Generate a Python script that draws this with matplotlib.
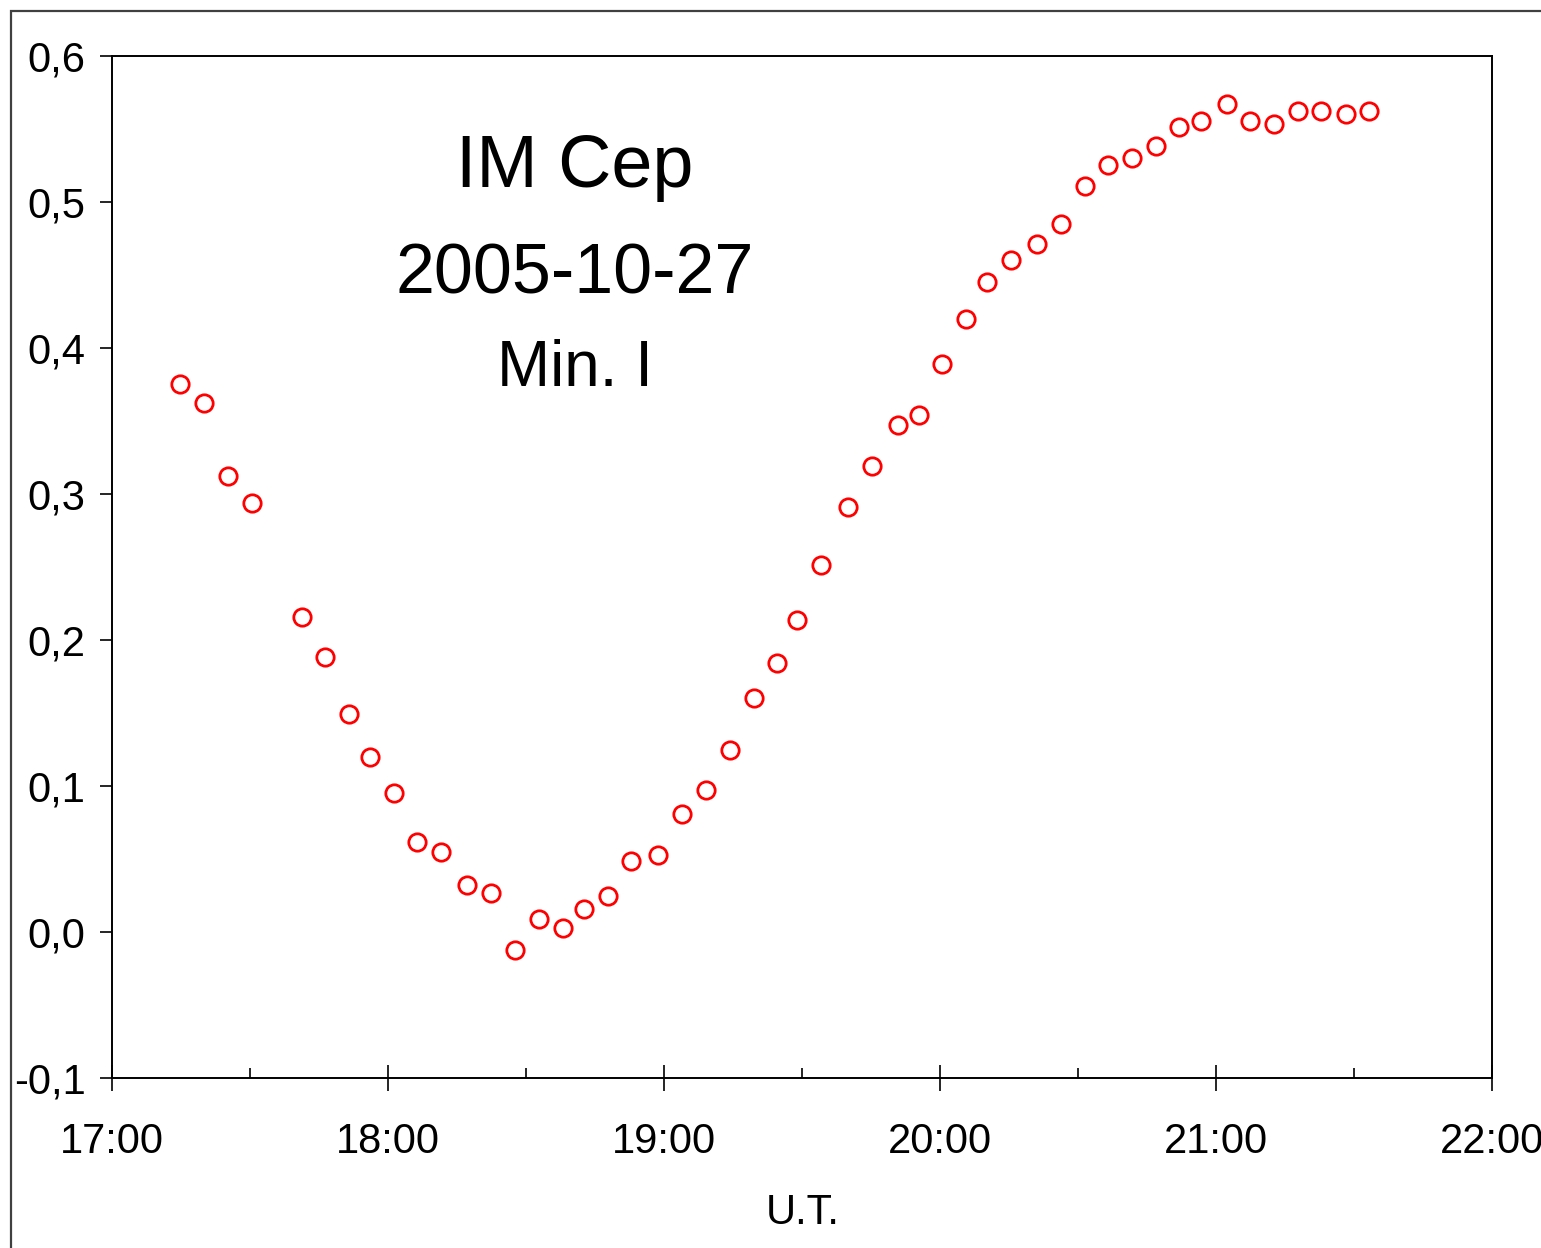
import matplotlib
matplotlib.use('Agg')
import matplotlib.pyplot as plt
import matplotlib.ticker as mticker
from matplotlib import font_manager
from matplotlib.patches import Rectangle

# DATOS (hora UT decimal, delta mag)
ut = [17.247, 17.334, 17.421, 17.508, 17.689, 17.772, 17.859, 17.935, 18.023, 18.106,
      18.193, 18.287, 18.374, 18.461, 18.548, 18.635, 18.711, 18.795, 18.878, 18.976,
      19.063, 19.150, 19.237, 19.324, 19.408, 19.480, 19.567, 19.665, 19.752, 19.846,
      19.922, 20.006, 20.093, 20.169, 20.256, 20.350, 20.437, 20.524, 20.608, 20.695,
      20.782, 20.865, 20.945, 21.039, 21.123, 21.210, 21.297, 21.380, 21.471, 21.554]
dmag = [0.375, 0.362, 0.312, 0.294, 0.216, 0.188, 0.149, 0.120, 0.095, 0.062,
        0.055, 0.032, 0.027, -0.012, 0.009, 0.003, 0.016, 0.025, 0.049, 0.053,
        0.081, 0.097, 0.125, 0.160, 0.184, 0.214, 0.251, 0.291, 0.319, 0.347,
        0.354, 0.389, 0.420, 0.445, 0.460, 0.471, 0.485, 0.511, 0.525, 0.530,
        0.538, 0.551, 0.555, 0.567, 0.555, 0.553, 0.562, 0.562, 0.560, 0.562]

title_lines = ['IM Cep', '2005-10-27', 'Min. I']
x_label = 'U.T.'

# fuente angosta si existe
try:
    font_manager.findfont('Liberation Sans Narrow', fallback_to_default=False)
    narrow = 'Liberation Sans Narrow'
    k = 1.0
except Exception:
    narrow = 'Liberation Sans'
    k = 0.9

plt.rcParams['font.family'] = ['Liberation Sans', 'DejaVu Sans']

fig = plt.figure(figsize=(15.41, 12.48), dpi=100)
ax = fig.add_axes([0.0727, 0.136, 0.8958, 0.8195])

ax.plot(ut, dmag, 'o', ls='none', ms=12.5, mfc='none', mec='#ff0000', mew=2)

ax.set_xlim(17, 22)
ax.set_ylim(-0.1, 0.6)
ax.xaxis.set_major_locator(mticker.MultipleLocator(1))
ax.xaxis.set_minor_locator(mticker.MultipleLocator(0.5))
ax.yaxis.set_major_locator(mticker.MultipleLocator(0.1))
ax.xaxis.set_major_formatter(mticker.FuncFormatter(lambda v, p: '%d:00' % round(v)))
ax.yaxis.set_major_formatter(mticker.FuncFormatter(lambda v, p: ('%.1f' % v).replace('.', ',')))

ax.tick_params(axis='x', which='major', direction='inout', length=19, width=1.2,
               labelsize=30, pad=22)
ax.tick_params(axis='x', which='minor', direction='in', length=7, width=1.2)
ax.tick_params(axis='y', which='major', direction='out', length=9, width=1.2,
               labelsize=30, pad=10)
for s in ax.spines.values():
    s.set_linewidth(1.4)

ax.set_xlabel(x_label, fontsize=30, labelpad=22)

# TITULO
sizes = [59, 56, 51]
ys = [0.8714, 0.7678, 0.6769]
for txt, sz, yy in zip(title_lines, sizes, ys):
    ax.text(0.3355, yy, txt, transform=ax.transAxes, ha='center', va='baseline',
            fontsize=sz * k, family=[narrow, 'DejaVu Sans'])

# marco exterior
fig.patches.append(Rectangle((11 / 1541, -0.05), 1.2, 1 - 11 / 1248 + 0.05,
                             transform=fig.transFigure, fill=False,
                             ec='#404040', lw=1.6, clip_on=False))

fig.savefig('out.png', dpi=100)
